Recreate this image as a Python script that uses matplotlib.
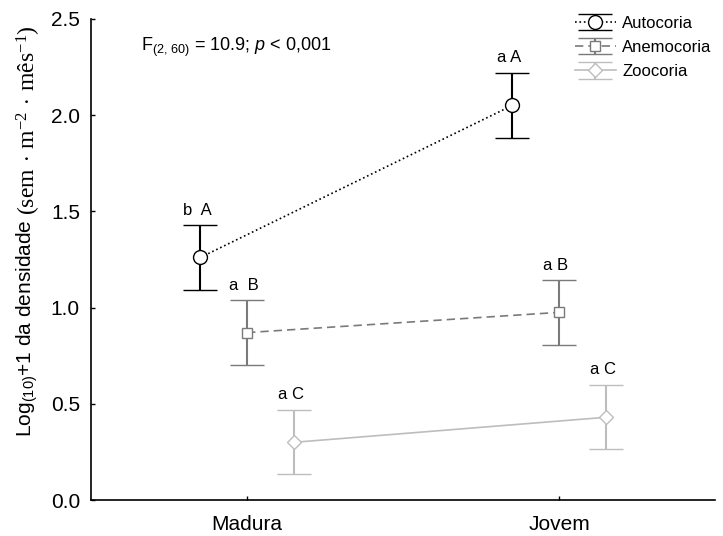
import matplotlib
matplotlib.use("Agg")
import matplotlib.pyplot as plt
import numpy as np

plt.rcParams['font.family'] = ['Liberation Sans', 'DejaVu Sans']
plt.rcParams['mathtext.fontset'] = 'custom'
plt.rcParams['mathtext.rm'] = 'Liberation Serif'
plt.rcParams['mathtext.sf'] = 'Liberation Sans'
plt.rcParams['mathtext.it'] = 'Liberation Sans:italic'

# Data
categories = ["Madura", "Jovem"]
series = ["Autocoria", "Anemocoria", "Zoocoria"]
means = {
    "Autocoria": [1.26, 2.05],
    "Anemocoria": [0.87, 0.975],
    "Zoocoria": [0.30, 0.43],
}
errors = {
    "Autocoria": [0.167, 0.168],
    "Anemocoria": [0.167, 0.167],
    "Zoocoria": [0.167, 0.167],
}
letters = {
    "Autocoria": ["b  A", "a A"],
    "Anemocoria": ["a  B", "a B"],
    "Zoocoria": ["a C", "a C"],
}
yticks = [0.0, 0.5, 1.0, 1.5, 2.0, 2.5]

styles = {
    "Autocoria": dict(color="black", ls=":", marker="o", ms=10, offset=-0.15),
    "Anemocoria": dict(color="#7a7a7a", ls=(0, (5, 3)), marker="s", ms=7.5, offset=0.0),
    "Zoocoria": dict(color="#bdbdbd", ls="-", marker="D", ms=7.5, offset=0.15),
}

fig = plt.figure(figsize=(7.23, 5.36), dpi=100)
ax = fig.add_axes([0.126, 0.067, 0.863, 0.898])

xbase = np.arange(len(categories))
for name in series:
    st = styles[name]
    x = xbase + st["offset"]
    y = np.array(means[name])
    e = np.array(errors[name])
    ax.errorbar(x, y, yerr=e, color=st["color"], ls=st["ls"], lw=1.2,
                marker=st["marker"], ms=st["ms"], mfc="white", mec=st["color"],
                mew=1.0, ecolor=st["color"], elinewidth=1.5, capsize=12,
                capthick=1.5, label=name, dash_capstyle="butt")
    for xi, yi, ei, lab in zip(x, y, e, letters[name]):
        ax.text(xi - 0.01, yi + ei + 0.04, lab, ha="center", va="bottom",
                fontsize=12)

ax.set_xlim(-0.5, 1.5)
ax.set_ylim(0, 2.5)
ax.set_xticks(xbase)
ax.set_xticklabels(categories, fontsize=15)
ax.set_yticks(yticks)
ax.set_yticklabels([f"{v:.1f}" for v in yticks], fontsize=15)
ax.tick_params(direction="in", length=3, width=1)
ax.tick_params(axis="y", pad=8)
ax.tick_params(axis="x", pad=11)
for s in ["top", "right"]:
    ax.spines[s].set_visible(False)
for s in ["left", "bottom"]:
    ax.spines[s].set_linewidth(1.2)

# Y-axis title: sans-serif quantity followed by serif units
label_x = 27 / 723
t1 = fig.text(label_x, 99 / 536, r"Log$_{\mathsf{(10)}}$+1 da densidade",
              rotation=90, ha="center", va="bottom", fontsize=15)
fig.canvas.draw()
bb = t1.get_window_extent(fig.canvas.get_renderer()).transformed(fig.transFigure.inverted())
fig.text(label_x + 0.003, bb.y1 + 0.008,
         r"$\mathrm{(sem\,\cdot\,m^{-2}\,\cdot\,mês^{-1})}$",
         rotation=90, ha="center", va="bottom", fontsize=17)

ax.text(0.08, 0.94, r"F$_{\mathsf{(2,\,60)}}$ = 10.9; $p$ < 0,001",
        transform=ax.transAxes, fontsize=13, ha="left", va="center")

leg = ax.legend(loc="upper right", bbox_to_anchor=(1.005, 1.02), frameon=False,
                fontsize=12, handlelength=2.5, handletextpad=0.35,
                labelspacing=0.55, borderaxespad=0.0)

fig.savefig("out.png", dpi=100)
